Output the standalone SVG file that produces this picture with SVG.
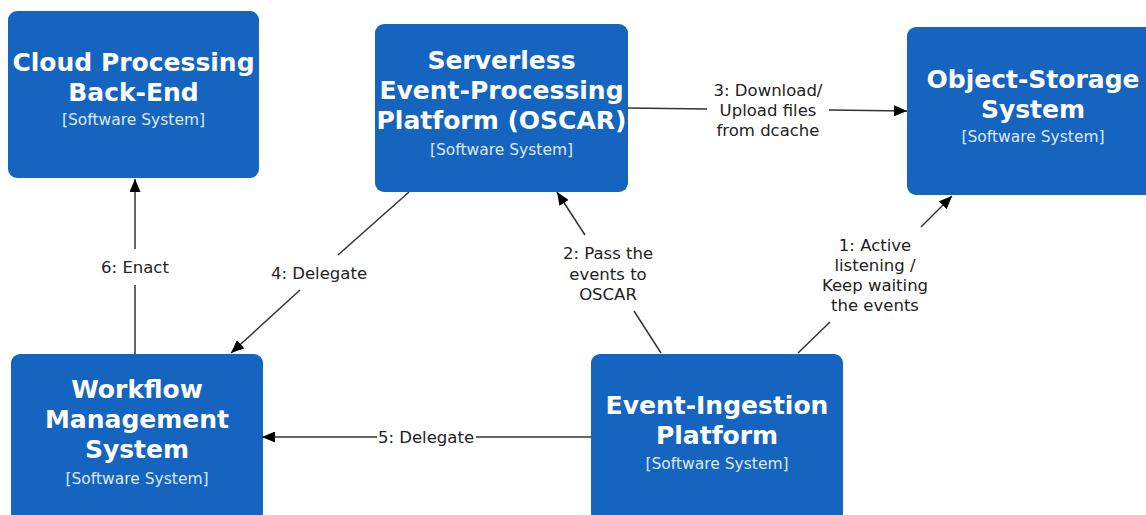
<svg xmlns="http://www.w3.org/2000/svg" width="1146" height="515" viewBox="0 0 1146 515">
<defs>
<style>
.box{fill:#1565c0;}
.t{font-family:"DejaVu Sans",sans-serif;font-weight:bold;font-size:25px;fill:#ffffff;text-anchor:middle;}
.s{font-family:"DejaVu Sans",sans-serif;font-size:15.5px;fill:#dfe7f3;text-anchor:middle;}
.l{font-family:"DejaVu Sans",sans-serif;font-size:16.5px;fill:#222222;text-anchor:middle;}
.c{stroke:#333333;stroke-width:1.5;fill:none;}
</style>
<marker id="ah" viewBox="0 0 13 11" refX="13" refY="5.5" markerWidth="13" markerHeight="11" markerUnits="userSpaceOnUse" orient="auto">
<path d="M0,0 L13,5.5 L0,11 z" fill="#000000"/>
</marker>
</defs>
<rect width="1146" height="515" fill="#ffffff"/>
<g id="cloud">
<rect class="box" x="8" y="11" width="251" height="167" rx="9"/>
<text class="t" x="133.5" y="71">Cloud Processing</text>
<text class="t" x="133.5" y="101">Back-End</text>
<text class="s" x="133.5" y="125">[Software System]</text>
</g>
<g id="oscar">
<rect class="box" x="375" y="24" width="253" height="168" rx="9"/>
<text class="t" x="501.5" y="69">Serverless</text>
<text class="t" x="501.5" y="99">Event-Processing</text>
<text class="t" x="501.5" y="129">Platform (OSCAR)</text>
<text class="s" x="501.5" y="155">[Software System]</text>
</g>
<g id="storage">
<rect class="box" x="907" y="27" width="252" height="168" rx="9"/>
<text class="t" x="1033" y="88">Object-Storage</text>
<text class="t" x="1033" y="118">System</text>
<text class="s" x="1033" y="142">[Software System]</text>
</g>
<g id="workflow">
<rect class="box" x="11" y="354" width="252" height="168" rx="9"/>
<text class="t" x="137" y="398">Workflow</text>
<text class="t" x="137" y="428">Management</text>
<text class="t" x="137" y="458">System</text>
<text class="s" x="137" y="484">[Software System]</text>
</g>
<g id="ingestion">
<rect class="box" x="591" y="354" width="252" height="168" rx="9"/>
<text class="t" x="717" y="414">Event-Ingestion</text>
<text class="t" x="717" y="444">Platform</text>
<text class="s" x="717" y="469">[Software System]</text>
</g>
<g id="connectors">
<line class="c" x1="798" y1="353" x2="830" y2="322"/>
<line class="c" x1="921" y1="227" x2="952" y2="196" marker-end="url(#ah)"/>
<text class="l" x="875" y="251">1: Active</text>
<text class="l" x="875" y="271">listening /</text>
<text class="l" x="875" y="291">Keep waiting</text>
<text class="l" x="875" y="311">the events</text>

<line class="c" x1="661" y1="353" x2="634" y2="311"/>
<line class="c" x1="585" y1="235" x2="557" y2="192" marker-end="url(#ah)"/>
<text class="l" x="608" y="259">2: Pass the</text>
<text class="l" x="608" y="280">events to</text>
<text class="l" x="608" y="300">OSCAR</text>

<line class="c" x1="628" y1="108" x2="707" y2="109"/>
<line class="c" x1="829" y1="110" x2="907" y2="111" marker-end="url(#ah)"/>
<text class="l" x="768" y="96">3: Download/</text>
<text class="l" x="768" y="116">Upload files</text>
<text class="l" x="768" y="136">from dcache</text>

<line class="c" x1="409" y1="192" x2="338" y2="255"/>
<line class="c" x1="300" y1="290" x2="231" y2="353" marker-end="url(#ah)"/>
<text class="l" x="319" y="279">4: Delegate</text>

<line class="c" x1="591" y1="437" x2="476" y2="437"/>
<line class="c" x1="377" y1="437" x2="262" y2="437" marker-end="url(#ah)"/>
<text class="l" x="426" y="443">5: Delegate</text>

<line class="c" x1="135" y1="354" x2="135" y2="285"/>
<line class="c" x1="135" y1="249" x2="135" y2="179" marker-end="url(#ah)"/>
<text class="l" x="135" y="273">6: Enact</text>
</g>
</svg>
